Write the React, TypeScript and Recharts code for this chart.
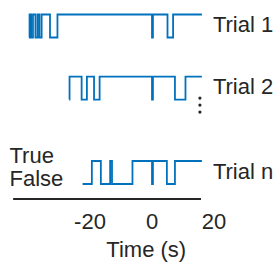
import React from 'react';
import { LineChart, Line, XAxis, YAxis, ReferenceLine, LabelList } from 'recharts';

// transition times (s) and the state that starts at each time (1 = True)
const trial1Times = [-39.7, -39.5, -39.0, -38.4, -37.6, -36.9, -36.3, -35.6, -32.9, -30.5, 0, 0.3, 5.0, 6.8, 16.1];
const trial1States = [0, 1, 0, 1, 0, 1, 0, 1, 0, 1, 0, 1, 0, 1, 1];

const trial2Times = [-26.7, -26.6, -22.7, -21.0, -18.7, -16.9, 0, 0.3, 7.4, 10.8, 16.1];
const trial2States = [0, 1, 0, 1, 0, 1, 0, 1, 0, 1, 1];

const trialNTimes = [-22.4, -19.4, -16.5, -13.5, -12.9, -6.3, 0, 0.3, 4.8, 7.4, 16.1];
const trialNStates = [0, 1, 0, 1, 0, 1, 0, 1, 0, 1, 1];

const trialNames = ['Trial 1', 'Trial 2', 'Trial n'];
const stateLabels = ['False', 'True'];
const timeTicks = [-20, 0, 20];

// vertical stacking of the trials and the span of the time axis line
const trialOffsets = [6.37, 3.67, 0];
const axisLevel = -0.65;
const axisSpan = [-44.8, 15.8];

const BLUE = '#0072BD';
const INK = '#262626';
const FONT = '"Liberation Sans", Arial, Helvetica, sans-serif';

const build = (times: number[], states: number[], offset: number) =>
  times.map((t, i) => ({ t, y: states[i] + offset }));

const trials = [
  build(trial1Times, trial1States, trialOffsets[0]),
  build(trial2Times, trial2States, trialOffsets[1]),
  build(trialNTimes, trialNStates, trialOffsets[2]),
];

const endLabel = (name: string, last: number, withDots: boolean) => (props: any) => {
  const { x, y, index } = props;
  if (index !== last) return null;
  return (
    <g>
      <text x={x + 11} y={y + 10} fill={INK} fontSize={22} fontFamily={FONT} dominantBaseline="central">
        {name}
      </text>
      {withDots &&
        [21.5, 28.5, 35.5].map((d) => <circle key={d} cx={x - 2} cy={y + d} r={1.6} fill={INK} />)}
    </g>
  );
};

const StateTick = (props: any) => {
  const { x, y, payload } = props;
  return (
    <text x={x + 5} y={y - 6} fill={INK} fontSize={22} fontFamily={FONT} textAnchor="start" dominantBaseline="central">
      {stateLabels[payload.value]}
    </text>
  );
};

export default function App() {
  return (
    <div style={{ position: 'absolute', left: 0, top: 0, background: '#fff' }}>
      <LineChart width={279} height={262} margin={{ top: 4.6, right: 65, bottom: 0, left: 0 }}>
        <XAxis
          type="number"
          dataKey="t"
          domain={[-45, 20]}
          ticks={timeTicks}
          allowDataOverflow
          axisLine={false}
          tickLine={false}
          tickMargin={0.5}
          interval={0}
          height={55}
          tick={{ fill: INK, fontSize: 22, fontFamily: FONT }}
          label={{
            value: 'Time (s)',
            position: 'insideBottom',
            offset: 5,
            dx: 33,
            fill: INK,
            fontSize: 22,
            fontFamily: FONT,
          }}
        />
        <YAxis
          type="number"
          domain={[-1, 7.8]}
          ticks={[0, 1]}
          allowDataOverflow
          width={12.5}
          axisLine={false}
          tickLine={false}
          interval={0}
          tick={<StateTick />}
        />
        <ReferenceLine
          segment={[
            { x: axisSpan[0], y: axisLevel },
            { x: axisSpan[1], y: axisLevel },
          ]}
          stroke={INK}
          strokeWidth={2}
        />
        {trials.map((data, i) => (
          <Line
            key={trialNames[i]}
            data={data}
            dataKey="y"
            type="stepAfter"
            stroke={BLUE}
            strokeWidth={1.8}
            dot={false}
            isAnimationActive={false}
          >
            <LabelList dataKey="y" content={endLabel(trialNames[i], data.length - 1, i === 1)} />
          </Line>
        ))}
      </LineChart>
    </div>
  );
}
